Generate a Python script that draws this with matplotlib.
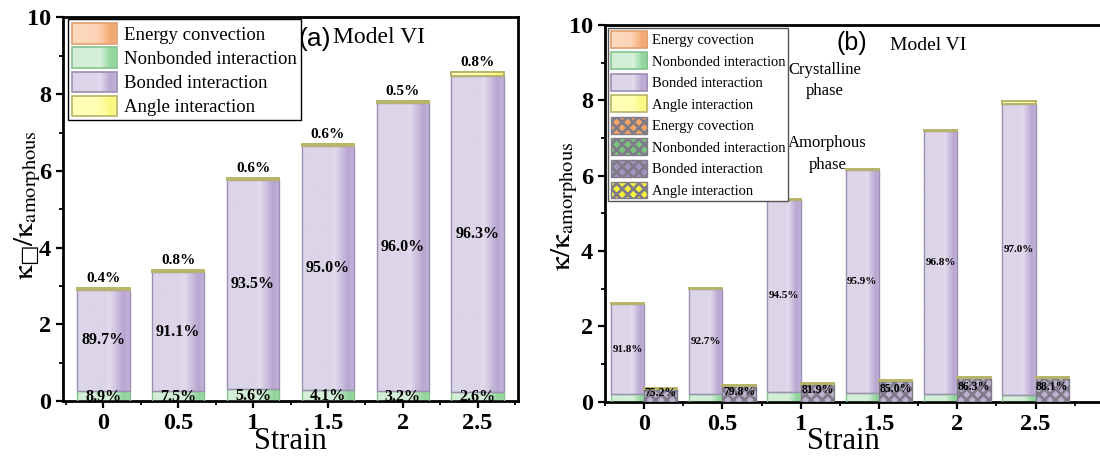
import numpy as np
import matplotlib
matplotlib.use("Agg")
import matplotlib.pyplot as plt
from matplotlib.colors import LinearSegmentedColormap
from matplotlib.patches import Patch, Rectangle
from matplotlib.legend_handler import HandlerBase
from matplotlib.ticker import MultipleLocator

plt.rcParams['font.family'] = ['Liberation Serif', 'DejaVu Serif']
plt.rcParams['mathtext.fontset'] = 'stix'
plt.rcParams['hatch.linewidth'] = 2.0

strain = [0, 0.5, 1, 1.5, 2, 2.5]
tick_labels = ['0', '0.5', '1', '1.5', '2', '2.5']

# (a) Model VI, total kappa ratio and shares (%)
a_total = [2.94, 3.41, 5.81, 6.70, 7.83, 8.58]
a_nonbond = [8.9, 7.5, 5.6, 4.1, 3.2, 2.6]
a_bond = [89.7, 91.1, 93.5, 95.0, 96.0, 96.3]
a_angle = [0.4, 0.8, 0.6, 0.6, 0.5, 0.8]

# (b) crystalline phase
b_total = [2.61, 3.01, 5.38, 6.17, 7.22, 7.97]
b_nonbond = [0.20, 0.20, 0.27, 0.23, 0.20, 0.18]
b_bond = [91.8, 92.7, 94.5, 95.9, 96.8, 97.0]
# (b) amorphous phase
c_total = [0.37, 0.44, 0.50, 0.58, 0.66, 0.66]
c_cap = [0.03, 0.03, 0.03, 0.03, 0.03, 0.03]
c_bond = [75.2, 79.8, 81.9, 85.0, 86.3, 88.1]

# colour ramps (left -> right across a bar)
G_ORANGE = [(0, '#fcd8bc'), (0.55, '#fcd5b8'), (0.9, '#f3a66e'), (1, '#f5b07e')]
G_GREEN = [(0, '#d3eed6'), (0.55, '#d3eed6'), (0.62, '#d8f1db'), (0.9, '#8fd49a'), (1, '#9ad9a4')]
G_PURPLE = [(0, '#dcd5e8'), (0.55, '#dcd5e8'), (0.62, '#e2dced'), (0.88, '#b9a6d1'), (1, '#c3b4d9')]
G_YELLOW = [(0, '#ffffb8'), (0.6, '#ffffb0'), (0.9, '#f8f87c'), (1, '#fafa90')]
E_ORANGE, E_GREEN, E_PURPLE, E_YELLOW = '#e0a070', '#86c28f', '#9b8fb2', '#b7b46a'
HATCH_EDGE = '#807b88'

ramp = np.linspace(0, 1, 64)[None, :]


def grad_bar(ax, x, bottom, height, width, stops, edge, lw=1.0):
    cmap = LinearSegmentedColormap.from_list('g', stops)
    ax.imshow(ramp, cmap=cmap, extent=(x - width / 2, x + width / 2, bottom, bottom + height),
              aspect='auto', origin='lower', zorder=2, interpolation='bilinear')
    ax.bar(x, height, width, bottom=bottom, color='none', edgecolor=edge, lw=lw, zorder=3)


class GradHandler(HandlerBase):
    def __init__(self, stops, edge):
        super().__init__()
        self.cmap = LinearSegmentedColormap.from_list('h', stops)
        self.edge = edge

    def create_artists(self, legend, orig_handle, xd, yd, width, height, fontsize, trans):
        n = 24
        arts = []
        for i in range(n):
            arts.append(Rectangle((-xd + width * i / n, -yd), width / n + 0.3, height,
                                  fc=self.cmap(i / (n - 1)), ec='none', transform=trans))
        arts.append(Rectangle((-xd, -yd), width, height, fc='none', ec=self.edge, lw=1.2, transform=trans))
        return arts


def style_axes(ax, xlim):
    for sp in ax.spines.values():
        sp.set_linewidth(2)
    ax.set_xlim(*xlim)
    ax.set_ylim(0, 10)
    ax.set_xticks(strain)
    ax.set_xticklabels(tick_labels)
    ax.xaxis.set_minor_locator(MultipleLocator(0.25))
    ax.set_yticks([0, 2, 4, 6, 8, 10])
    ax.yaxis.set_minor_locator(MultipleLocator(1))
    ax.tick_params(which='major', direction='out', length=5, width=1.6, labelsize=17.5)
    ax.tick_params(which='minor', direction='out', length=3, width=1.3)
    for lab in ax.get_xticklabels() + ax.get_yticklabels():
        lab.set_fontweight('bold')
    ax.set_xlabel('Strain', fontsize=22)


fig = plt.figure(figsize=(11, 4.59), dpi=100)
ax1 = fig.add_axes([0.0573, 0.1264, 0.4136, 0.8355])
ax2 = fig.add_axes([0.55, 0.1248, 0.4573, 0.8207])

# ---------------- panel (a)
w = 0.35
for i, s in enumerate(strain):
    t = a_total[i]
    nb = t * a_nonbond[i] / 100
    bd = t * a_bond[i] / 100
    grad_bar(ax1, s, 0, nb, w, G_GREEN, E_GREEN)
    grad_bar(ax1, s, nb, bd, w, G_PURPLE, E_PURPLE)
    grad_bar(ax1, s, nb + bd, t - nb - bd, w, G_YELLOW, E_YELLOW, lw=1.4)
    ax1.text(s, t + 0.08, f'{a_angle[i]:.1f}%', ha='center', va='bottom', fontsize=11, fontweight='bold')
    ax1.text(s, nb + bd / 2, f'{a_bond[i]:.1f}%', ha='center', va='center', fontsize=11.5, fontweight='bold', zorder=5)
    ax1.text(s, nb / 2 - 0.02, f'{a_nonbond[i]:.1f}%', ha='center', va='center', fontsize=11.5,
             fontweight='bold', zorder=5, clip_on=True)

style_axes(ax1, (-0.27, 2.77))
ax1.set_ylabel(r'$\mathrm{\kappa_{□}/\kappa_{amorphous}}$', fontsize=21)
ax1.yaxis.set_label_coords(-0.045, 0.51)
ax1.xaxis.set_label_coords(0.5, -0.068)
ax1.text(1.30, 9.43, '(a)', fontsize=19, family='Liberation Sans', ha='left', va='center')
ax1.text(1.535, 9.48, 'Model VI', fontsize=17, ha='left', va='center')

h_a = [Patch(label='Energy convection'), Patch(label='Nonbonded interaction'),
       Patch(label='Bonded interaction'), Patch(label='Angle interaction')]
hmap_a = {h_a[0]: GradHandler(G_ORANGE, E_ORANGE), h_a[1]: GradHandler(G_GREEN, E_GREEN),
          h_a[2]: GradHandler(G_PURPLE, E_PURPLE), h_a[3]: GradHandler(G_YELLOW, E_YELLOW)}
leg1 = ax1.legend(handles=h_a, handler_map=hmap_a, loc='upper left', bbox_to_anchor=(0.011, 0.995),
                  borderaxespad=0, fontsize=13.5, handlelength=2.4, handleheight=1.3,
                  labelspacing=0.2, handletextpad=0.4, borderpad=0.2, fancybox=False,
                  edgecolor='black', framealpha=1)
leg1.get_frame().set_linewidth(1.0)

# ---------------- panel (b)
w2 = 0.213
for i, s in enumerate(strain):
    xc = s - w2 / 2
    t = b_total[i]
    nb = b_nonbond[i]
    bd = t * b_bond[i] / 100
    grad_bar(ax2, xc, 0, nb, w2, G_GREEN, E_GREEN)
    grad_bar(ax2, xc, nb, bd, w2, G_PURPLE, E_PURPLE)
    grad_bar(ax2, xc, nb + bd, t - nb - bd, w2, G_YELLOW, E_YELLOW, lw=1.4)
    ax2.text(xc, nb + bd / 2, f'{b_bond[i]:.1f}%', ha='center', va='center', fontsize=8, fontweight='bold', zorder=5)

    xa = s + w2 / 2
    ta = c_total[i]
    ax2.bar(xa, ta - c_cap[i], w2, color='#bcb2d0', edgecolor=HATCH_EDGE, hatch='xxx', lw=1, zorder=3)
    ax2.bar(xa, c_cap[i], w2, bottom=ta - c_cap[i], color='#f0ee8c', edgecolor=E_YELLOW, lw=1.4, zorder=3)
    ax2.text(xa, ta * 0.6, f'{c_bond[i]:.1f}%', ha='center', va='center', fontsize=8.5, fontweight='bold', zorder=5)

style_axes(ax2, (-0.25, 2.963))
ax2.spines['right'].set_visible(False)
ax2.set_ylabel(r'$\mathrm{\kappa/\kappa_{amorphous}}$', fontsize=21)
ax2.yaxis.set_label_coords(-0.05, 0.52)
ax2.xaxis.set_label_coords(0.473, -0.068)
ax2.text(1.327, 9.51, '(b)', fontsize=18, family='Liberation Sans', ha='center', va='center')
ax2.text(1.57, 9.46, 'Model VI', fontsize=14, ha='left', va='center')
ax2.text(1.153, 8.53, 'Crystalline\nphase', fontsize=12, ha='center', va='center', linespacing=1.45)
ax2.text(1.172, 6.58, 'Amorphous\nphase', fontsize=12, ha='center', va='center', linespacing=1.45)

h_b = [Patch(label='Energy covection'), Patch(label='Nonbonded interaction'),
       Patch(label='Bonded interaction'), Patch(label='Angle interaction'),
       Patch(fc='#f4a565', ec=HATCH_EDGE, hatch='xxx', label='Energy covection'),
       Patch(fc='#7bc47e', ec=HATCH_EDGE, hatch='xxx', label='Nonbonded interaction'),
       Patch(fc='#a194c0', ec=HATCH_EDGE, hatch='xxx', label='Bonded interaction'),
       Patch(fc='#f6f23c', ec=HATCH_EDGE, hatch='xxx', label='Angle interaction')]
hmap_b = {h_b[0]: GradHandler(G_ORANGE, E_ORANGE), h_b[1]: GradHandler(G_GREEN, E_GREEN),
          h_b[2]: GradHandler(G_PURPLE, E_PURPLE), h_b[3]: GradHandler(G_YELLOW, E_YELLOW)}
leg2 = ax2.legend(handles=h_b, handler_map=hmap_b, loc='upper left', bbox_to_anchor=(0.006, 0.992),
                  borderaxespad=0, fontsize=10.5, handlelength=2.5, handleheight=1.4,
                  labelspacing=0.32, handletextpad=0.3, borderpad=0.2, fancybox=False,
                  edgecolor='#555555', framealpha=1)
leg2.get_frame().set_linewidth(1.0)

fig.savefig('out.png', dpi=100)
